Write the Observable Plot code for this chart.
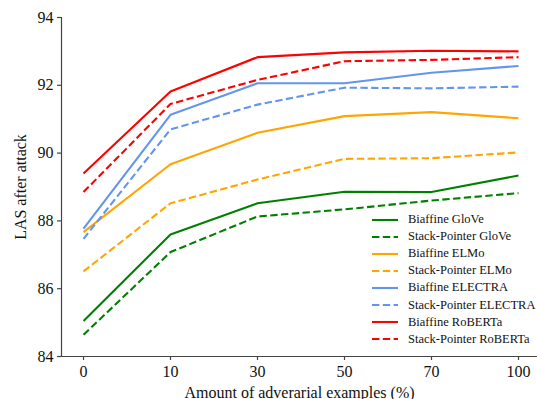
<!DOCTYPE html>
<html>
<head>
<meta charset="utf-8">
<script src="https://cdn.jsdelivr.net/npm/d3@7"></script>
<script src="https://cdn.jsdelivr.net/npm/@observablehq/plot@0.6"></script>
<style>
  html, body { margin: 0; padding: 0; background: #fff; }
  #wrap { position: relative; width: 537px; height: 399px; font-family: "Liberation Serif", serif; }
  #wrap svg text { font-family: "Liberation Serif", serif; }
  #wrap svg g[aria-label$="axis tick"] { stroke: #444; stroke-width: 1.2; }
  #legend { position: absolute; left: 372px; top: 211px; font-size: 12.5px; color: #111; }
  #legend .row { display: flex; align-items: center; height: 17.1px; }
  #legend svg { margin-right: 10px; }
</style>
</head>
<body>
<div id="wrap"><div id="legend"></div></div>
<script>
const xLabels = ["0", "10", "30", "50", "70", "100"];
const seriesNames = [
  "Biaffine GloVe", "Stack-Pointer GloVe",
  "Biaffine ELMo", "Stack-Pointer ELMo",
  "Biaffine ELECTRA", "Stack-Pointer ELECTRA",
  "Biaffine RoBERTa", "Stack-Pointer RoBERTa"
];
const biaffineGloVe     = [85.05, 87.60, 88.52, 88.86, 88.85, 89.34];
const stackGloVe        = [84.64, 87.08, 88.13, 88.34, 88.60, 88.82];
const biaffineELMo      = [87.67, 89.67, 90.60, 91.09, 91.21, 91.03];
const stackELMo         = [86.51, 88.52, 89.22, 89.83, 89.85, 90.02];
const biaffineELECTRA   = [87.77, 91.13, 92.06, 92.06, 92.37, 92.57];
const stackELECTRA      = [87.47, 90.70, 91.43, 91.93, 91.91, 91.96];
const biaffineRoBERTa   = [89.40, 91.82, 92.83, 92.97, 93.02, 93.00];
const stackRoBERTa      = [88.85, 91.45, 92.16, 92.71, 92.75, 92.83];
const yTicks = [84, 86, 88, 90, 92, 94];

const seriesValues = [biaffineGloVe, stackGloVe, biaffineELMo, stackELMo,
                      biaffineELECTRA, stackELECTRA, biaffineRoBERTa, stackRoBERTa];
const colors = ["green", "green", "orange", "orange", "cornflowerblue", "cornflowerblue", "red", "red"];
const dashed = [false, true, false, true, false, true, false, true];
const dashPattern = "7.4,3.4";
const serif = "Liberation Serif";

const rows = [];
seriesNames.forEach((name, i) => {
  seriesValues[i].forEach((v, j) => rows.push({series: name, x: xLabels[j], y: v}));
});

const marks = [
  Plot.frame({anchor: "left", stroke: "#444", strokeWidth: 1.2}),
  Plot.frame({anchor: "bottom", stroke: "#444", strokeWidth: 1.2}),
  Plot.axisY(yTicks, {tickSize: 4, tickPadding: 4, fontSize: 16, fontFamily: serif,
    label: "LAS after attack", labelAnchor: "center", labelArrow: "none", labelOffset: 47}),
  Plot.axisX({tickSize: 4, tickPadding: 5, fontSize: 16, fontFamily: serif,
    label: "Amount of adverarial examples (%)", labelAnchor: "center", labelArrow: "none", labelOffset: 41})
];
seriesNames.forEach((name, i) => {
  marks.push(Plot.line(rows.filter(d => d.series === name), {
    x: "x", y: "y", stroke: colors[i], strokeWidth: 2.1,
    strokeDasharray: dashed[i] ? dashPattern : null, strokeLinecap: "butt"
  }));
});

const chart = Plot.plot({
  width: 537,
  height: 399,
  marginLeft: 61,
  marginRight: 0,
  marginTop: 17,
  marginBottom: 43,
  style: {fontFamily: serif, fontSize: "16px", background: "#fff", color: "#111"},
  x: {type: "point", domain: xLabels, range: [82, 518], padding: 0},
  y: {domain: [84, 94]},
  marks
});
const wrap = document.getElementById("wrap");
wrap.insertBefore(chart, wrap.firstChild);

const legend = d3.select("#legend");
seriesNames.forEach((name, i) => {
  const row = legend.append("div").attr("class", "row");
  const s = row.append("svg").attr("width", 26).attr("height", 10);
  s.append("line").attr("x1", 0).attr("x2", 26).attr("y1", 5).attr("y2", 5)
    .attr("stroke", colors[i]).attr("stroke-width", 2.1)
    .attr("stroke-dasharray", dashed[i] ? dashPattern : null);
  row.append("span").text(name);
});
</script>
</body>
</html>
